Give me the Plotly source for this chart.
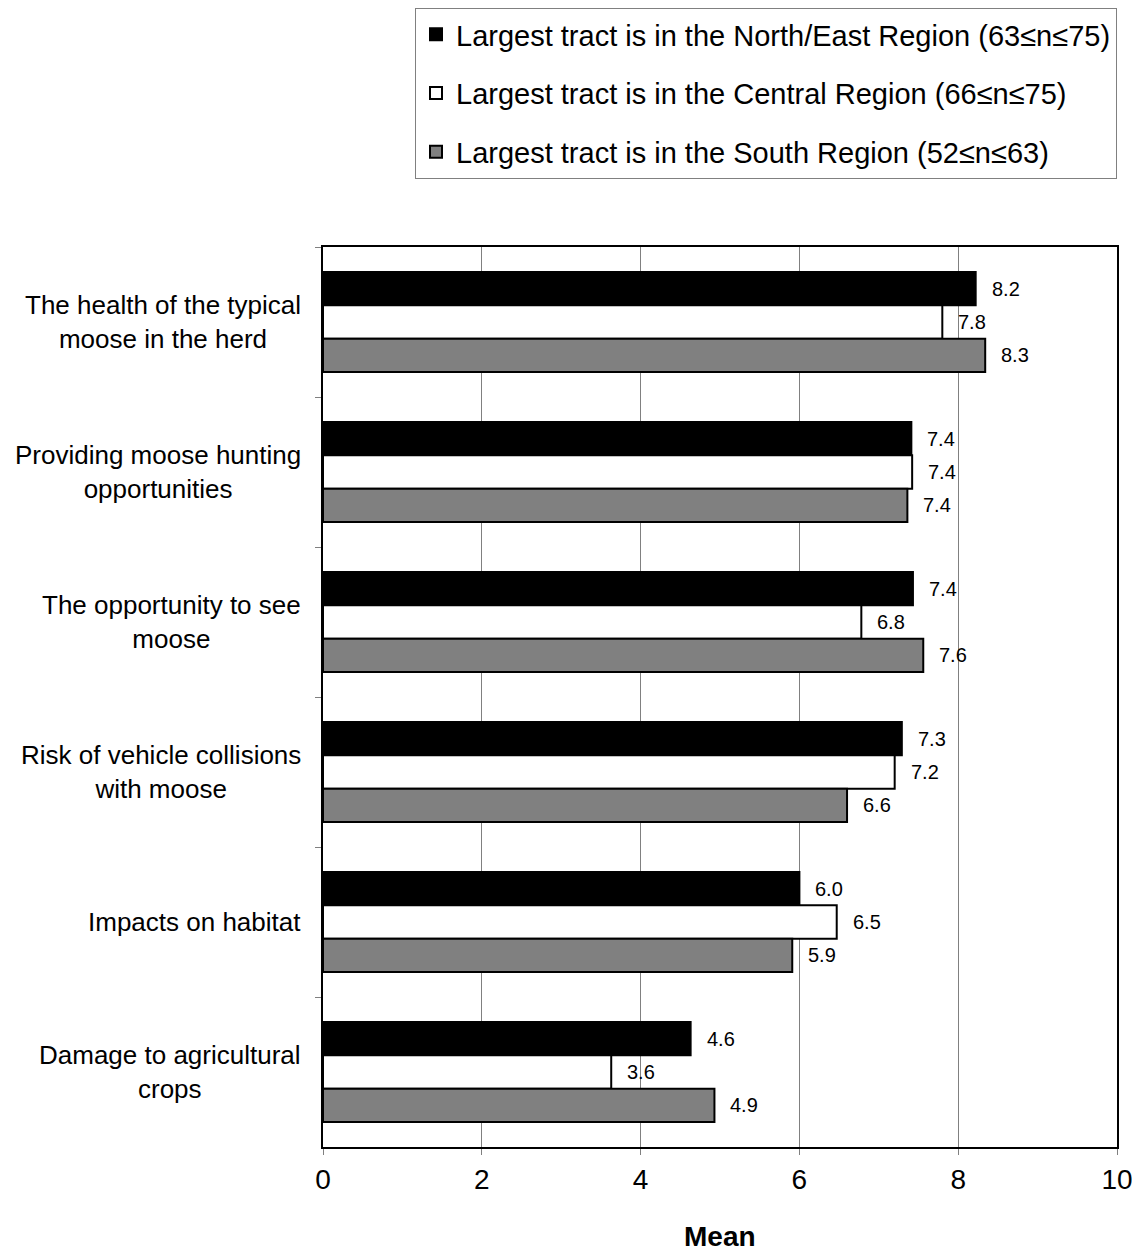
import plotly.graph_objects as go

categories = [
    "The health of the typical<br>moose in the herd",
    "Providing moose hunting<br>opportunities",
    "The opportunity to see<br>moose",
    "Risk of vehicle collisions<br>with moose",
    "Impacts on habitat",
    "Damage to agricultural<br>crops",
]
series_names = [
    "Largest tract is in the North/East Region (63≤n≤75)",
    "Largest tract is in the Central Region (66≤n≤75)",
    "Largest tract is in the South Region (52≤n≤63)",
]
north_east = [8.22, 7.41, 7.43, 7.29, 6.00, 4.63]
central = [7.80, 7.42, 6.78, 7.20, 6.47, 3.63]
south = [8.34, 7.36, 7.56, 6.60, 5.91, 4.93]
x_ticks = [0, 2, 4, 6, 8, 10]

colors = ["#000000", "#ffffff", "#808080"]
series = [north_east, central, south]

FONT = "Liberation Sans, Arial, sans-serif"

fig = go.Figure()
for i, (name, vals, col) in enumerate(zip(series_names, series, colors)):
    fig.add_trace(go.Bar(
        y=categories, x=vals, name=name, orientation="h",
        marker=dict(color=col, line=dict(color="#000000", width=2)),
        legendgroup=f"g{i}",
    ))

# figure/plot geometry (page body has an 8px margin)
W, H = 1124, 1245
L, R, T, B = 315, 15, 239, 106
plot_h = H - T - B
bar_px = plot_h / len(categories) * (2 / 3) / 3

annotations = []
shifts = [bar_px, 0, -bar_px]
for vals, ys in zip(series, shifts):
    for cat, v in zip(categories, vals):
        annotations.append(dict(
            x=v, y=cat, xref="x", yref="y", text=f"{v:.1f}",
            showarrow=False, xanchor="left", yanchor="middle",
            xshift=14, yshift=ys, font=dict(family=FONT, size=20, color="#000"),
        ))
for cat in categories:
    annotations.append(dict(
        x=0, y=cat, xref="paper", yref="y", text=cat, showarrow=False,
        xanchor="right", yanchor="middle", align="center", xshift=-20,
        font=dict(family=FONT, size=26, color="#000"),
    ))
# axis title
annotations.append(dict(
    x=0.5, y=0, xref="paper", yref="paper", text="<b>Mean</b>", showarrow=False,
    xanchor="center", yanchor="middle", yshift=-89,
    font=dict(family=FONT, size=28, color="#000"),
))

fig.update_layout(
    width=W, height=H,
    margin=dict(l=L, r=R, t=T, b=B, pad=0, autoexpand=False),
    paper_bgcolor="white", plot_bgcolor="white",
    barmode="group", bargap=1/3, bargroupgap=0,
    font=dict(family=FONT, color="#000"),
    showlegend=True,
    legend=dict(
        x=1.0, xanchor="right", y=1 + T / plot_h, yanchor="top",
        bordercolor="#808080", borderwidth=1, bgcolor="white",
        font=dict(family=FONT, size=29, color="#000"),
        tracegroupgap=18, itemwidth=30,
    ),
    annotations=annotations,
    xaxis=dict(
        range=[0, 10], tickvals=x_ticks, ticktext=[str(t) for t in x_ticks],
        showgrid=True, gridcolor="#808080", gridwidth=1,
        showline=True, linecolor="#000", linewidth=2, mirror=True,
        ticks="outside", ticklen=6, tickcolor="#808080",
        tickfont=dict(family=FONT, size=28, color="#000"),
        ticklabeloverflow="allow",
        zeroline=False, automargin=False,
    ),
    yaxis=dict(
        autorange="reversed", showticklabels=False,
        showline=True, linecolor="#000", linewidth=2, mirror=True,
        ticks="outside", tickson="boundaries", ticklen=6, tickcolor="#808080",
        showgrid=False, automargin=False,
    ),
)

fig.write_html("out.html")
